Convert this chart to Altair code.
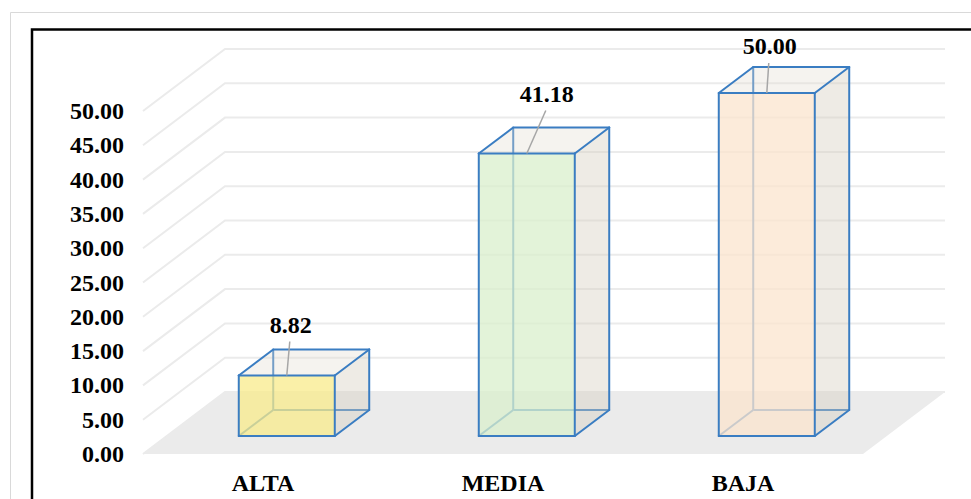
import altair as alt
import pandas as pd

# ---- data -------------------------------------------------------------
CATEGORIES = ["ALTA", "MEDIA", "BAJA"]
VALUES = [8.82, 41.18, 50.00]
FACE_COLORS = ["#f8eb8b", "#daefcc", "#fbe4cd"]
TICKS = [0, 5, 10, 15, 20, 25, 30, 35, 40, 45, 50]
# manual nudges of the value labels (pixels: right, up)
LABEL_NUDGE = [(4, 50), (20, 59), (3, 46)]

# ---- oblique 3-D projection -------------------------------------------
W, H = 971, 499
SLOT_PX = 240.0          # width of one category slot on the front edge
LEFT_PX = 143.0          # front-left corner of the floor
BASE_PX = 454.0          # front edge of the floor (value 0)
UNIT_PX = 343.0 / 50.0   # pixels per value unit
DEPTH_X = 82.0 / SLOT_PX # full depth shift, in slot units
DEPTH_Y = 62.0 / UNIT_PX # full depth shift, in value units
BAR_HALF = 0.2           # half bar width, in slot units
D_FRONT, D_BACK = 0.29, 0.71

x_scale = alt.Scale(domain=[-LEFT_PX / SLOT_PX, (W - LEFT_PX) / SLOT_PX], nice=False, zero=False)
y_scale = alt.Scale(domain=[-(H - BASE_PX) / UNIT_PX, BASE_PX / UNIT_PX], nice=False, zero=False)


def proj(u, v, d):
    return u + d * DEPTH_X, v + d * DEPTH_Y


X = lambda f: alt.X(f, type="quantitative", scale=x_scale, axis=None)
Y = lambda f: alt.Y(f, type="quantitative", scale=y_scale, axis=None)

# ---- gridlines: left wall + back wall ----------------------------------
grid_rows = []
for t in TICKS:
    pts = [proj(0, t, 0), proj(0, t, 1), proj(3, t, 1)]
    for k, (px, py) in enumerate(pts):
        grid_rows.append({"tick": t, "k": k, "x": px, "y": py})
grid = alt.Chart(pd.DataFrame(grid_rows)).mark_line(
    color="#ebebeb", strokeWidth=2
).encode(x=X("x"), y=Y("y"), detail="tick:N", order="k:Q")

# ---- floor -------------------------------------------------------------
f0 = proj(0, 0, 0)
f1 = proj(0, 0, 1)
floor_df = pd.DataFrame([
    {"y": f0[1], "x": f0[0], "x2": proj(3, 0, 0)[0]},
    {"y": f1[1], "x": f1[0], "x2": proj(3, 0, 1)[0]},
])
floor = alt.Chart(floor_df).mark_area(orient="horizontal", color="#ebebeb").encode(
    y=Y("y"), x=X("x"), x2="x2"
)

# ---- bars as transparent boxes ----------------------------------------
front_rows, top_rows, side_rows = [], [], []
hidden_rows, edge_rows, leader_rows, label_rows = [], [], [], []
for i, (cat, val) in enumerate(zip(CATEGORIES, VALUES)):
    u0, u1 = i + 0.5 - BAR_HALF, i + 0.5 + BAR_HALF
    F = lambda u, v: proj(u, v, D_FRONT)
    B = lambda u, v: proj(u, v, D_BACK)
    front_rows.append({"cat": cat, "x": F(u0, 0)[0], "x2": F(u1, 0)[0],
                       "y": F(u0, 0)[1], "y2": F(u0, val)[1]})
    for d in (D_FRONT, D_BACK):
        top_rows.append({"cat": cat, "y": proj(u0, val, d)[1],
                         "x": proj(u0, val, d)[0], "x2": proj(u1, val, d)[0]})
        side_rows.append({"cat": cat, "x": proj(u1, 0, d)[0],
                          "y": proj(u1, 0, d)[1], "y2": proj(u1, val, d)[1]})

    def seg(rows, a, b):
        rows.append({"x": a[0], "y": a[1], "x2": b[0], "y2": b[1]})

    # edges seen through the faces
    seg(hidden_rows, B(u0, 0), B(u0, val))
    seg(hidden_rows, B(u0, 0), B(u1, 0))
    seg(hidden_rows, F(u0, 0), B(u0, 0))
    # outline edges
    seg(edge_rows, F(u0, 0), F(u1, 0))
    seg(edge_rows, F(u1, 0), F(u1, val))
    seg(edge_rows, F(u1, val), F(u0, val))
    seg(edge_rows, F(u0, val), F(u0, 0))
    seg(edge_rows, F(u0, val), B(u0, val))
    seg(edge_rows, F(u1, val), B(u1, val))
    seg(edge_rows, B(u0, val), B(u1, val))
    seg(edge_rows, B(u1, val), B(u1, 0))
    seg(edge_rows, F(u1, 0), B(u1, 0))

    # value label + leader line
    anchor = F(i + 0.5, val)
    nx, ny = LABEL_NUDGE[i]
    lx = anchor[0] + nx / SLOT_PX
    ly = anchor[1] + ny / UNIT_PX
    label_rows.append({"x": lx, "y": ly, "val": val})
    seg(leader_rows, (lx - 1.0 / SLOT_PX, ly - 16.0 / UNIT_PX), anchor)

front = alt.Chart(pd.DataFrame(front_rows)).mark_rect(opacity=0.75).encode(
    x=X("x"), x2="x2", y=Y("y"), y2="y2",
    color=alt.Color("cat:N", scale=alt.Scale(domain=CATEGORIES, range=FACE_COLORS), legend=None),
)
top = alt.Chart(pd.DataFrame(top_rows)).mark_area(
    orient="horizontal", color="#e3ddd0", opacity=0.35
).encode(y=Y("y"), x=X("x"), x2="x2", detail="cat:N")
side = alt.Chart(pd.DataFrame(side_rows)).mark_area(
    orient="vertical", color="#d4ccbf", opacity=0.4
).encode(x=X("x"), y=Y("y"), y2="y2", detail="cat:N")

BLUE = "#3a7dc2"
hidden = alt.Chart(pd.DataFrame(hidden_rows)).mark_rule(color=BLUE, strokeWidth=2).encode(
    x=X("x"), y=Y("y"), x2="x2", y2="y2"
)
edges = alt.Chart(pd.DataFrame(edge_rows)).mark_rule(
    color=BLUE, strokeWidth=2, strokeCap="round"
).encode(x=X("x"), y=Y("y"), x2="x2", y2="y2")
leaders = alt.Chart(pd.DataFrame(leader_rows)).mark_rule(color="#a6a6a6", strokeWidth=1.5).encode(
    x=X("x"), y=Y("y"), x2="x2", y2="y2"
)

FONT = "Liberation Serif"
FS = 24
value_labels = alt.Chart(pd.DataFrame(label_rows)).mark_text(
    font=FONT, fontSize=FS, fontWeight="bold", color="#000000", baseline="middle"
).encode(x=X("x"), y=Y("y"), text=alt.Text("val:Q", format=".2f"))

# ---- axis texts ----------------------------------------------------------
tick_df = pd.DataFrame({"v": TICKS, "x": [-19.0 / SLOT_PX] * len(TICKS)})
tick_labels = alt.Chart(tick_df).mark_text(
    font=FONT, fontSize=FS, fontWeight="bold", color="#000000",
    align="right", baseline="middle", dy=1
).encode(x=X("x"), y=Y("v"), text=alt.Text("v:Q", format=".2f"))

cat_df = pd.DataFrame({"cat": CATEGORIES, "u": [i + 0.5 for i in range(len(CATEGORIES))],
                       "y": [-30.0 / UNIT_PX] * len(CATEGORIES)})
cat_labels = alt.Chart(cat_df).mark_text(
    font=FONT, fontSize=FS, fontWeight="bold", color="#000000", baseline="middle"
).encode(x=X("u"), y=Y("y"), text="cat:N")

# ---- frames ----------------------------------------------------------------
outer = alt.Chart(pd.DataFrame({"a": [0]})).mark_rect(
    filled=False, stroke="#d9d9d9", strokeWidth=1
).encode(x=alt.value(10.5), x2=alt.value(W + 20), y=alt.value(12.5), y2=alt.value(H + 20))
inner = alt.Chart(pd.DataFrame({"a": [0]})).mark_rect(
    filled=False, stroke="#000000", strokeWidth=2.5
).encode(x=alt.value(32), x2=alt.value(W + 20), y=alt.value(29.5), y2=alt.value(H + 20))

chart = alt.layer(
    outer, inner, grid, floor, hidden, front, side, top, edges, leaders,
    value_labels, tick_labels, cat_labels
).properties(
    width=W, height=H, padding=0, autosize=alt.AutoSizeParams(type="none"),
    background="#ffffff"
).configure_view(stroke=None)

chart.save("out.html", embed_options={"renderer": "svg", "actions": False})
